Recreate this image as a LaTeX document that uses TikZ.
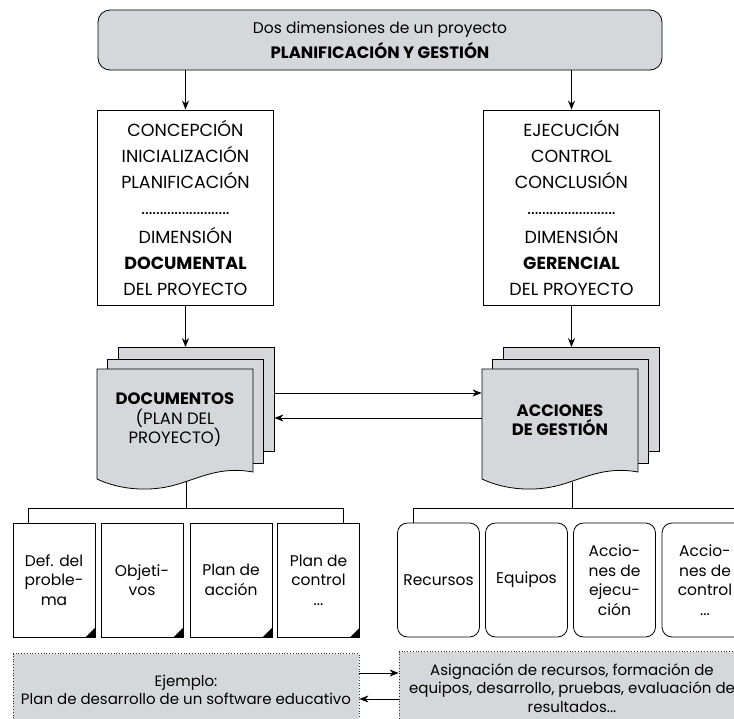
\documentclass[tikz,border=0pt]{standalone}
\usepackage{fontspec}
\setmainfont{Poppins}
\usetikzlibrary{arrows.meta}
\definecolor{hoja}{RGB}{214,215,218}

\begin{document}
\begin{tikzpicture}[x=1pt,y=-1pt,line width=0.8pt,>={Stealth[length=9pt,width=7pt]},
  caja/.style={draw,fill=white,minimum width=176pt,minimum height=195pt,align=center,font=\fontsize{17.5}{26}\selectfont},
  hoja/.style={draw,fill=hoja,minimum width=156pt,minimum height=104pt},
  rotulo/.style={minimum width=156pt,align=center,font=\fontsize{16.5}{19.5}\selectfont},
  docu/.style={draw,fill=white,minimum width=82pt,minimum height=114pt,align=center,font=\fontsize{15.5}{19.5}\selectfont},
  accion/.style={docu,rounded corners=10pt},
  punteada/.style={draw=black!80,dotted,fill=hoja,minimum height=73pt,align=center,font=\fontsize{15}{18.5}\selectfont}]
  \clip (0,0) rectangle (734,718);
  % cabecera
  \node[draw,fill=hoja,rounded corners=12pt,minimum width=564pt,minimum height=60pt,align=center,
    font=\fontsize{15.5}{25}\selectfont] (top) at (380,40)
    {Dos dimensiones de un proyecto\\{\fontsize{16.5}{25}\selectfont\textbf{PLANIFICACIÓN Y GESTIÓN}}};
  % las dos dimensiones
  \node[caja] (docdim) at (185.5,207.5) {CONCEPCIÓN\\INICIALIZACIÓN\\PLANIFICACIÓN\\........................\\[3pt]DIMENSIÓN\\\textbf{DOCUMENTAL}\\DEL PROYECTO};
  \node[caja] (gerdim) at (571.5,207.5) {EJECUCIÓN\\CONTROL\\CONCLUSIÓN\\........................\\[3pt]DIMENSIÓN\\\textbf{GERENCIAL}\\DEL PROYECTO};
  \draw[->] (top.south -| docdim.north) -- (docdim.north);
  \draw[->] (top.south -| gerdim.north) -- (gerdim.north);
  % pilas de hojas
  \foreach \dx/\nm in {0/docs,385/acc}{
    \node[hoja] (\nm3) at (\dx+196,399.5) {};
    \node[hoja] (\nm2) at (\dx+185.5,411) {};
    \filldraw[fill=hoja] (\dx+97,369) -- (\dx+253,369) -- (\dx+253,472)
      .. controls (\dx+220,466) and (\dx+200,478) .. (\dx+175,485)
      .. controls (\dx+150,492) and (\dx+120,490) .. (\dx+97,479) -- cycle;
  }
  \node[rotulo] (docs) at (175,420) {\textbf{DOCUMENTOS}\\(PLAN DEL\\PROYECTO)};
  \node[rotulo] (acc) at (560,420) {\textbf{ACCIONES}\\\textbf{DE GESTIÓN}};
  \draw[->] (docdim.south) -- (docdim.south |- docs3.north);
  \draw[->] (gerdim.south) -- (gerdim.south |- acc3.north);
  \coordinate (hi) at (0,393);
  \coordinate (lo) at (0,418);
  \draw[->] (docs3.east |- hi) -- (acc.west |- hi);
  \draw[->] (acc.west |- lo) -- (docs3.east |- lo);
  % documentos
  \node[docu] (l1) at (54,580) {Def. del\\proble-\\ma};
  \node[docu] (l2) at (142,580) {Objeti-\\vos};
  \node[docu] (l3) at (231,580) {Plan de\\acción};
  \node[docu] (l4) at (318.5,580) {Plan de\\control\\...};
  \foreach \n in {l1,l2,l3,l4}
    \fill (\n.south east) -- ++(-10,0) -- ++(10,-10) -- cycle;
  % acciones
  \node[accion] (r1) at (438.5,580) {Recursos};
  \node[accion] (r2) at (526.5,580) {Equipos};
  \node[accion] (r3) at (614.5,580) {Accio-\\nes de\\ejecu-\\ción};
  \node[accion,minimum width=86pt] (r4) at (705,580) {Accio-\\nes de\\control\\...};
  % uniones
  \coordinate (bus) at (0,508);
  \coordinate (docsb) at (186,482);
  \coordinate (accb) at (572,482);
  \coordinate (l1t) at ([xshift=16pt]l1.north west);
  \coordinate (l4t) at ([xshift=-17pt]l4.north east);
  \coordinate (r1t) at ([xshift=16pt]r1.north west);
  \coordinate (r4t) at ([xshift=40pt]r4.north east);
  \draw (docsb) -- (docsb |- bus);
  \draw (l1t) |- (l4t |- bus) -- (l4t);
  \draw (accb) -- (accb |- bus);
  \draw (r1t) |- (r4t |- bus) -- (r4t);
  % ejemplo
  \node[punteada,minimum width=346pt] (ej) at (186,690) {Ejemplo:\\Plan de desarrollo de un software educativo};
  \node[punteada,minimum width=346pt] (asig) at (572,688) {Asignación de recursos, formación de\\equipos, desarrollo, pruebas, evaluación de\\resultados...};
  \coordinate (a1) at (0,673);
  \coordinate (a2) at (0,699);
  \draw[->] (ej.east |- a1) -- (asig.west |- a1);
  \draw[->] (asig.west |- a2) -- (ej.east |- a2);
\end{tikzpicture}
\end{document}
